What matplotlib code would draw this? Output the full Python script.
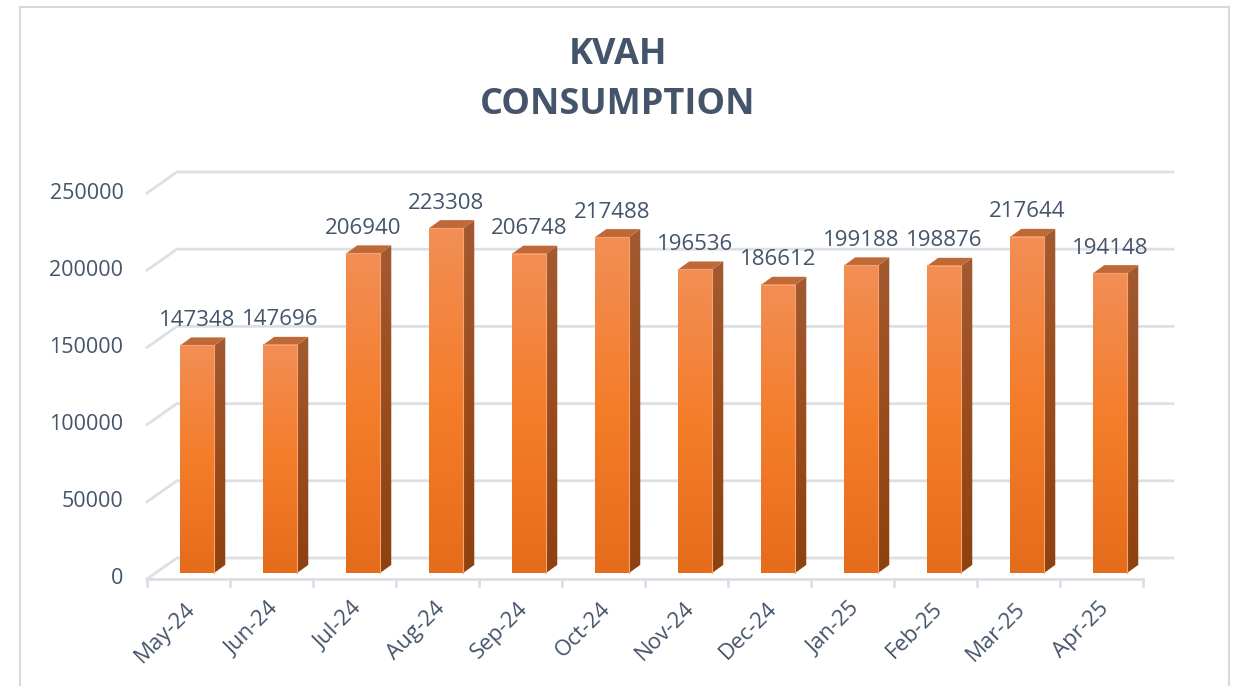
import numpy as np
import matplotlib
matplotlib.use("Agg")
import matplotlib.pyplot as plt
from matplotlib.colors import LinearSegmentedColormap
from matplotlib.patches import Polygon
from matplotlib.lines import Line2D

plt.rcParams['font.family'] = ['Open Sans', 'DejaVu Sans']

months = ['May-24', 'Jun-24', 'Jul-24', 'Aug-24', 'Sep-24', 'Oct-24',
          'Nov-24', 'Dec-24', 'Jan-25', 'Feb-25', 'Mar-25', 'Apr-25']
kvah = [147348, 147696, 206940, 223308, 206748, 217488,
        196536, 186612, 199188, 198876, 217644, 194148]
yticks = [0, 50000, 100000, 150000, 200000, 250000]

txt_col = '#44546A'
grid_col = '#DCE0E6'

# 3d look: depth of the floor, where the bars sit, bar depth
DX, DY = 0.361, 13600
BX, BY = 0.105, 3950
SD, SDY = 0.133, 5180
W = 0.41

fig = plt.figure(figsize=(12.33, 6.86), dpi=100)
ax = fig.add_axes([147/1233, 107/686, 1033/1233, 419/686])
ax.set_axis_off()

# chart border
for xs, ys in [([20/1233, 20/1233], [0, 1-7/686]),
               ([20/1233, 1229/1233], [1-7/686, 1-7/686]),
               ([1229/1233, 1229/1233], [1-7/686, 0])]:
    fig.add_artist(Line2D(xs, ys, color='#D9D9D9', lw=1.5, transform=fig.transFigure))

# gridlines (back wall)
n = len(months)
for v in yticks:
    ax.plot([0, DX, n + DX], [v, v + DY, v + DY], color=grid_col, lw=2, zorder=1,
            solid_joinstyle='miter', clip_on=False)
    ax.annotate(str(v), (0, v), xytext=(-17, 0), textcoords='offset points',
                ha='right', va='center', fontsize=15.5, color=txt_col)

# floor front line and ticks
ax.plot([0, n], [0, 0], color=grid_col, lw=2, zorder=1, clip_on=False)
for i in range(n + 1):
    ax.plot([i, i], [0, -4500], color=grid_col, lw=2, zorder=1, clip_on=False)

front_cmap = LinearSegmentedColormap.from_list('f', ['#E56C1B', '#F47D2A', '#F28E55'])
side_cmap = LinearSegmentedColormap.from_list('s', ['#8E420F', '#9A4C1C', '#A25A30'])
grad = np.linspace(0, 1, 100).reshape(-1, 1)

for i, v in enumerate(kvah):
    x0 = i + 0.5 + BX - W / 2
    x1 = x0 + W
    b = BY
    t = BY + v
    # side face
    side = Polygon([(x1, b), (x1 + SD, b + SDY), (x1 + SD, t + SDY), (x1, t)],
                   closed=True, facecolor='none', edgecolor='none')
    ax.add_patch(side)
    im = ax.imshow(grad, extent=[x1, x1 + SD, b, t + SDY], origin='lower',
                   aspect='auto', cmap=side_cmap, zorder=3)
    im.set_clip_path(side)
    # top face
    ax.add_patch(Polygon([(x0, t), (x1, t), (x1 + SD, t + SDY), (x0 + SD, t + SDY)],
                         closed=True, facecolor='#BF6838', edgecolor='none', zorder=3))
    # front face
    ax.imshow(grad, extent=[x0, x1, b, t], origin='lower', aspect='auto',
              cmap=front_cmap, zorder=4)
    ax.plot([x0, x1, x1], [t, t, b], color='#F6A272', lw=0.8, zorder=5)
    ax.annotate(str(v), (x0 + W / 2, t), xytext=(0, 18), textcoords='offset points',
                ha='center', va='center', fontsize=16, color=txt_col, zorder=6)

# category labels
for i, m in enumerate(months):
    ax.annotate(m, (i + 0.5, 0), xytext=(3, -19), textcoords='offset points',
                ha='right', va='center', rotation=45, rotation_mode='anchor',
                fontsize=16, color=txt_col)

ax.set_xlim(0, (1180 - 147) / 83)
ax.set_ylim(0, 419 / 386 * 250000)

fig.text(618 / 1233, 1 - 55 / 686, 'KVAH', ha='center', va='center',
         fontsize=26, fontweight='bold', color=txt_col)
fig.text(618 / 1233, 1 - 105 / 686, 'CONSUMPTION', ha='center', va='center',
         fontsize=26, fontweight='bold', color=txt_col)

fig.savefig('out.png', dpi=100)
